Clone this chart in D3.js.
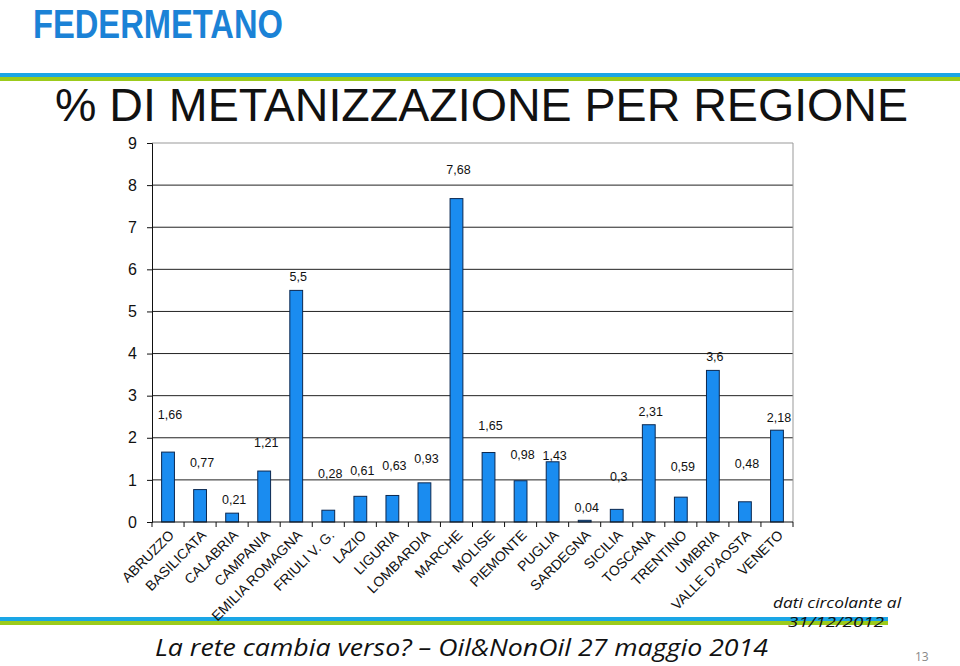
<!DOCTYPE html>
<html><head><meta charset="utf-8">
<script src="https://cdn.jsdelivr.net/npm/d3@7"></script>
<style>body{margin:0;background:#fff}svg{display:block}</style>
</head><body>
<script>
const categories = ["ABRUZZO","BASILICATA","CALABRIA","CAMPANIA","EMILIA ROMAGNA","FRIULI V. G.","LAZIO","LIGURIA","LOMBARDIA","MARCHE","MOLISE","PIEMONTE","PUGLIA","SARDEGNA","SICILIA","TOSCANA","TRENTINO","UMBRIA","VALLE D'AOSTA","VENETO"];
const values = [1.66,0.77,0.21,1.21,5.5,0.28,0.61,0.63,0.93,7.68,1.65,0.98,1.43,0.04,0.3,2.31,0.59,3.6,0.48,2.18];
const valueLabels = ["1,66","0,77","0,21","1,21","5,5","0,28","0,61","0,63","0,93","7,68","1,65","0,98","1,43","0,04","0,3","2,31","0,59","3,6","0,48","2,18"];
// height (in axis units) at which each data label sits in the original
const labelAt = [2.54,1.40,0.52,1.88,5.82,1.14,1.23,1.35,1.50,8.36,2.28,1.59,1.57,0.33,1.07,2.61,1.31,3.92,1.38,2.49];
const yTicks = [0,1,2,3,4,5,6,7,8,9];
const title = "% DI METANIZZAZIONE PER REGIONE";
const footer = "La rete cambia verso? \u2013  Oil&NonOil 27 maggio 2014";
const note1 = "dati circolante al";
const note2 = "31/12/2012";
const pageNum = "13";
const logo = "FEDERMETANO";

(function () {
const W = 960, H = 666;
const svg = d3.select("body").append("svg").attr("width", W).attr("height", H);

// logo
svg.append("text").attr("x", 33).attr("y", 37.5).text(logo)
  .attr("font-family", "Liberation Sans, Arial, sans-serif").attr("font-weight", 900)
  .attr("font-size", 41).attr("fill", "#1b82d6")
  .attr("textLength", 250).attr("lengthAdjust", "spacingAndGlyphs");

// stripes
svg.append("rect").attr("x", 0).attr("y", 73).attr("width", W).attr("height", 4).attr("fill", "#1aa6e6");
svg.append("rect").attr("x", 0).attr("y", 77).attr("width", W).attr("height", 4).attr("fill", "#9ccb1b");
svg.append("rect").attr("x", 0).attr("y", 617).attr("width", 888).attr("height", 4).attr("fill", "#1aa6e6");
svg.append("rect").attr("x", 0).attr("y", 621).attr("width", 888).attr("height", 4).attr("fill", "#9ccb1b");

// title
svg.append("text").attr("x", 55).attr("y", 121).text(title)
  .attr("font-family", "Liberation Sans, Arial, sans-serif").attr("font-size", 47).attr("fill", "#111")
  .attr("textLength", 853).attr("lengthAdjust", "spacingAndGlyphs");

const pL = 152, pR = 793, pT = 143, pB = 522;
const x = d3.scaleBand().domain(categories).range([pL, pR]).paddingInner(0.6).paddingOuter(0.3);
const y = d3.scaleLinear().domain([0, 9]).range([pB, pT]);

const font = "Liberation Sans, Arial, sans-serif";

// gridlines
svg.append("g").selectAll("line").data(yTicks.filter(d => d > 0 && d < 9)).join("line")
  .attr("x1", pL).attr("x2", pR).attr("y1", d => y(d)).attr("y2", d => y(d))
  .attr("stroke", "#222").attr("stroke-width", 1);
// top & right border
svg.append("line").attr("x1", pL).attr("x2", pR).attr("y1", y(9)).attr("y2", y(9)).attr("stroke", "#999");
svg.append("line").attr("x1", pR).attr("x2", pR).attr("y1", y(9)).attr("y2", pB).attr("stroke", "#999");

// y axis
const yAxis = svg.append("g").attr("transform", `translate(${pL},0)`)
  .call(d3.axisLeft(y).tickValues(yTicks).tickSize(5).tickPadding(10).tickFormat(d3.format("d")));
yAxis.select(".domain").attr("stroke", "#111");
yAxis.selectAll(".tick line").attr("stroke", "#111");
yAxis.selectAll("text").attr("font-family", font).attr("font-size", 16).attr("fill", "#111");

// bars
svg.append("g").selectAll("rect").data(values).join("rect")
  .attr("x", (d, i) => x(categories[i]))
  .attr("width", x.bandwidth())
  .attr("y", d => y(d))
  .attr("height", d => y(0) - y(d))
  .attr("fill", "#1a8cf0").attr("stroke", "#0b2850").attr("stroke-width", 1);

// x axis
const step = x.step();
const xg = svg.append("g");
xg.append("line").attr("x1", pL).attr("x2", pR).attr("y1", pB).attr("y2", pB).attr("stroke", "#111");
xg.selectAll("line.tk").data(d3.range(categories.length + 1)).join("line").attr("class", "tk")
  .attr("x1", i => pL + i * step).attr("x2", i => pL + i * step)
  .attr("y1", pB).attr("y2", pB + 5).attr("stroke", "#111");
xg.selectAll("text").data(categories).join("text")
  .attr("transform", d => `translate(${x(d) + x.bandwidth() / 2 + 7},${pB + 14}) rotate(-45)`)
  .attr("text-anchor", "end").attr("font-family", font).attr("font-size", 14).attr("fill", "#111")
  .text(d => d);

// data labels
svg.append("g").selectAll("text").data(valueLabels).join("text")
  .attr("x", (d, i) => x(categories[i]) + x.bandwidth() / 2 + 2)
  .attr("y", (d, i) => y(labelAt[i]))
  .attr("dy", "0.35em").attr("text-anchor", "middle")
  .attr("font-family", font).attr("font-size", 12.5).attr("fill", "#111")
  .text(d => d);

// footer
const ital = "Open Sans, DejaVu Sans, sans-serif";
svg.append("text").attr("x", 155).attr("y", 656).text(footer)
  .attr("font-family", ital).attr("font-style", "italic").attr("font-size", 23).attr("fill", "#111")
  .attr("textLength", 613).attr("lengthAdjust", "spacingAndGlyphs");
svg.append("text").attr("x", 773).attr("y", 608).text(note1)
  .attr("font-family", ital).attr("font-style", "italic").attr("font-size", 15).attr("fill", "#111")
  .attr("textLength", 128).attr("lengthAdjust", "spacingAndGlyphs");
svg.append("text").attr("x", 788).attr("y", 627).text(note2)
  .attr("font-family", ital).attr("font-style", "italic").attr("font-size", 15).attr("fill", "#111")
  .attr("textLength", 96).attr("lengthAdjust", "spacingAndGlyphs");
svg.append("text").attr("x", 915).attr("y", 661).text(pageNum)
  .attr("font-family", ital).attr("font-size", 12).attr("fill", "#888");
})();
</script>
</body></html>
